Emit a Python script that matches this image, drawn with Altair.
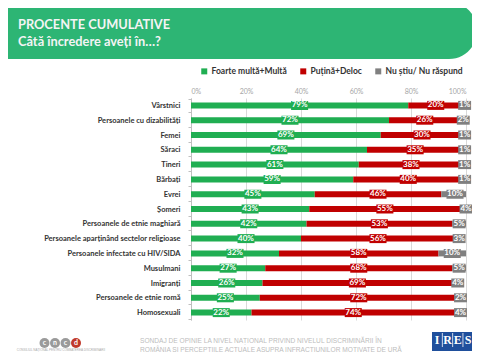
import altair as alt
import pandas as pd

categories = ["Vârstnici", "Persoanele cu dizabilități", "Femei", "Săraci", "Tineri",
              "Bărbați", "Evrei", "Șomeri", "Persoanele de etnie maghiară",
              "Persoanele aparținând sectelor religioase", "Persoanele infectate cu HIV/SIDA",
              "Musulmani", "Imigranți", "Persoanele de etnie romă", "Homosexuali"]
mult = [79, 72, 69, 64, 61, 59, 45, 43, 42, 40, 32, 27, 26, 25, 22]
putin = [20, 26, 30, 35, 38, 40, 46, 55, 53, 56, 58, 68, 69, 72, 74]
nustiu = [1, 2, 1, 1, 1, 1, 10, 4, 5, 3, 10, 5, 4, 2, 4]
series = ["Foarte multă+Multă", "Puțină+Deloc", "Nu știu/ Nu răspund"]
colors = ["#20ae52", "#c00000", "#808080"]
x_ticks = [0, 20, 40, 60, 80, 100]
title1 = "PROCENTE CUMULATIVE"
title2 = "Câtă încredere aveți în…?"
footer1 = "SONDAJ DE OPINIE LA NIVEL NAȚIONAL PRIVIND NIVELUL DISCRIMINĂRII ÎN"
footer2 = "ROMÂNIA ȘI PERCEPȚIILE ACTUALE ASUPRA INFRACȚIUNILOR MOTIVATE DE URĂ"
cncd_letters = ["c", "n", "c", "d"]
cncd_colors = ["#9a9a9a", "#9a9a9a", "#9a9a9a", "#c0392b"]
ires_letters = ["I", "R", "E", "S"]

rows = []
for i, c in enumerate(categories):
    for k, (s, v) in enumerate(zip(series, [mult[i], putin[i], nustiu[i]])):
        rows.append({"cat": c, "series": s, "value": v, "ord": k})
df = pd.DataFrame(rows)

FONT = "Lato"

base = alt.Chart(df).transform_stack(
    stack="value", groupby=["cat"], as_=["x0", "x1"], sort=[alt.SortField("ord")]
).transform_calculate(
    mid="(datum.x0 + datum.x1) / 2",
    label="datum.value + '%'",
).transform_calculate(
    lo="datum.mid - (length(datum.label) * 1.5 + 1.7) / 2",
    hi="datum.mid + (length(datum.label) * 1.5 + 1.7) / 2",
)

color_scale = alt.Scale(domain=series, range=colors)
xscale = alt.Scale(domain=[0, 100], nice=False)

bars = base.mark_bar(height=6, clip=True).encode(
    x=alt.X("x0:Q", scale=xscale,
            axis=alt.Axis(orient="top", values=x_ticks, labelExpr="datum.value + '%'",
                          ticks=False, domain=False, grid=True, gridColor="#d9d9d9",
                          labelColor="#a6a6a6", labelFontSize=7, labelFont=FONT,
                          labelPadding=4, title=None)),
    x2="x1:Q",
    y=alt.Y("cat:N", sort=categories,
            axis=alt.Axis(title=None, labelFont=FONT, labelFontSize=7.5, labelFontWeight="bold",
                          labelColor="#333333", labelPadding=8, tickSize=3, tickColor="#bfbfbf",
                          domainColor="#bfbfbf", tickBand="extent", labelLimit=0, grid=False)),
    color=alt.Color("series:N", scale=color_scale, sort=series,
                    legend=alt.Legend(orient="none", legendX=9, legendY=-31, direction="horizontal",
                                      title=None, symbolType="square", symbolSize=36,
                                      symbolStrokeWidth=0, labelFont=FONT, labelFontSize=8.5,
                                      labelFontWeight="bold", labelColor="#333333",
                                      columnPadding=12, labelOffset=3)),
)

boxes = base.mark_bar(height=9).encode(
    x="lo:Q", x2="hi:Q",
    y=alt.Y("cat:N", sort=categories),
    color=alt.Color("series:N", scale=color_scale, legend=None),
)

labels = base.mark_text(color="white", fontSize=8, fontWeight="bold", font=FONT).encode(
    x="mid:Q", y=alt.Y("cat:N", sort=categories), text="label:N"
)

one = alt.Chart(pd.DataFrame({"a": [0]}))

banner = one.mark_rect(color="#2db574", cornerRadiusTopRight=28, cornerRadiusBottomRight=28).encode(
    x=alt.value(-200), x2=alt.value(286), y=alt.value(-96), y2=alt.value(-39)
)
t1 = one.mark_text(text=title1, align="left", baseline="middle", font=FONT, fontSize=12.8,
                   fontWeight="bold", color="#f4f4f4").encode(x=alt.value(-173), y=alt.value(-73))
t2 = one.mark_text(text=title2, align="left", baseline="middle", font=FONT, fontSize=12.8,
                   fontWeight="bold", color="#f4f4f4").encode(x=alt.value(-173), y=alt.value(-56))

FFONT = "Liberation Sans"
f1 = one.mark_text(text=footer1, align="left", baseline="middle", font=FFONT, fontSize=6.6,
                   color="#bdbdbd").encode(x=alt.value(-51), y=alt.value(243))
f2 = one.mark_text(text=footer2, align="left", baseline="middle", font=FFONT, fontSize=6.6,
                   color="#bdbdbd").encode(x=alt.value(-51), y=alt.value(251.5))

deco = [banner, t1, t2, f1, f2]
for j, (ch, col) in enumerate(zip(cncd_letters, cncd_colors)):
    px = -146.5 + j * 10.5
    deco.append(one.mark_circle(size=100, color=col, opacity=1).encode(x=alt.value(px), y=alt.value(245)))
    deco.append(one.mark_text(text=ch, color="white", fontSize=7, fontWeight="bold", font=FONT,
                              baseline="middle").encode(x=alt.value(px), y=alt.value(244.5)))
deco.append(one.mark_text(text="CONSILIUL NAȚIONAL PENTRU COMBATEREA DISCRIMINĂRII", fontSize=3,
                          color="#aaaaaa").encode(x=alt.value(-130), y=alt.value(252)))

deco.append(one.mark_rect(color="#1f4f9c").encode(
    x=alt.value(241), x2=alt.value(283), y=alt.value(234), y2=alt.value(253)))
for j, ch in enumerate(ires_letters):
    px = 246.2 + j * 10.3
    deco.append(one.mark_text(text=ch, color="white", fontSize=12, fontWeight="bold",
                              font="Liberation Serif", baseline="middle").encode(
        x=alt.value(px), y=alt.value(242)))
    if j > 0:
        deco.append(one.mark_rule(color="white", strokeWidth=0.8).encode(
            x=alt.value(px - 5.15), y=alt.value(235), y2=alt.value(249)))

chart = alt.layer(*deco, bars, boxes, labels).properties(
    width=275, height=222,
    autosize=alt.AutoSizeParams(type="none"),
    padding={"left": 183, "top": 90, "right": 6, "bottom": 32},
    background="white",
).configure_view(stroke=None)

chart.save("out.html", embed_options={"renderer": "svg", "actions": False})
